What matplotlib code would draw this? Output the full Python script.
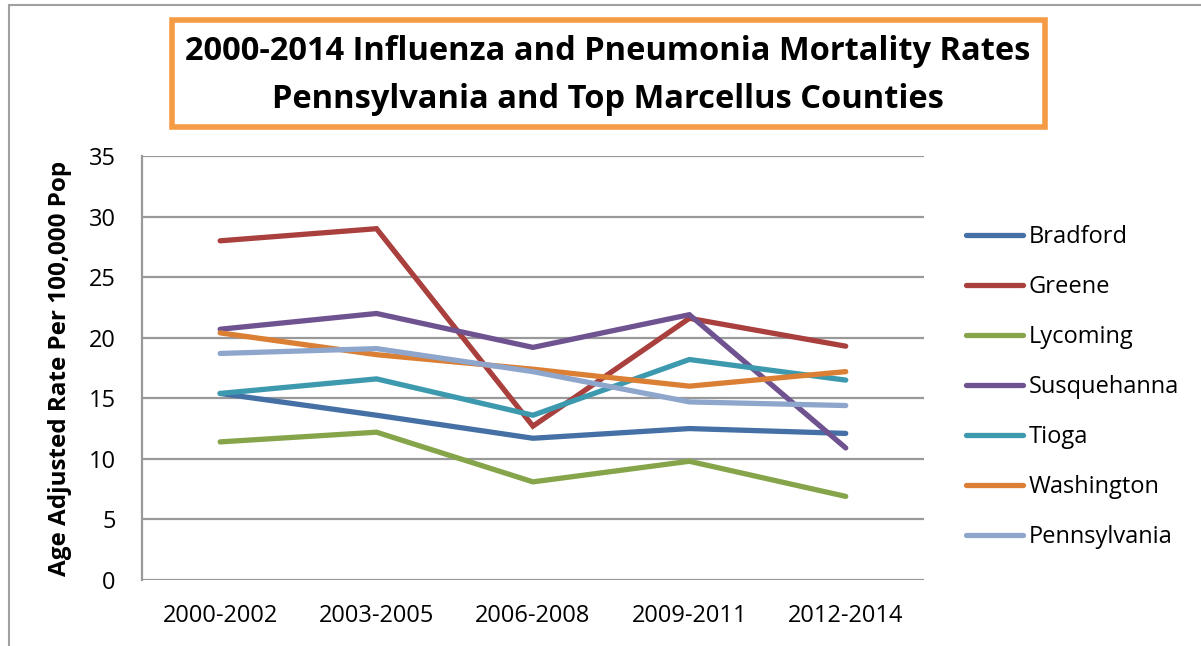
import matplotlib
matplotlib.use("Agg")
import matplotlib.pyplot as plt
from matplotlib.patches import Rectangle
from matplotlib import font_manager

periods = ["2000-2002", "2003-2005", "2006-2008", "2009-2011", "2012-2014"]

bradford = [15.4, 13.6, 11.7, 12.5, 12.1]
greene = [28.0, 29.0, 12.7, 21.6, 19.3]
lycoming = [11.4, 12.2, 8.1, 9.8, 6.9]
susquehanna = [20.7, 22.0, 19.2, 21.9, 10.9]
tioga = [15.4, 16.6, 13.6, 18.2, 16.5]
washington = [20.4, 18.6, 17.4, 16.0, 17.2]
pennsylvania = [18.7, 19.1, 17.2, 14.7, 14.4]

series = [
    ("Bradford", bradford, "#4470A6"),
    ("Greene", greene, "#A9403D"),
    ("Lycoming", lycoming, "#86A44A"),
    ("Susquehanna", susquehanna, "#6F5290"),
    ("Tioga", tioga, "#3D9AAE"),
    ("Washington", washington, "#DB7F35"),
    ("Pennsylvania", pennsylvania, "#8EA6CB"),
]

names = {f.name for f in font_manager.fontManager.ttflist}
narrow = "Liberation Sans Narrow" if "Liberation Sans Narrow" in names else "Open Sans"
plt.rcParams["font.family"] = [narrow, "DejaVu Sans"]

fig = plt.figure(figsize=(12.01, 6.46), dpi=100)
ax = fig.add_axes([0.1182, 0.1022, 0.6511, 0.6563])

x = list(range(len(periods)))
for name, vals, col in series:
    ax.plot(x, vals, color=col, lw=3.8, solid_capstyle="round",
            solid_joinstyle="miter", label=name)

ax.set_xlim(-0.5, 4.5)
ax.set_ylim(0, 35)
ax.set_yticks(range(0, 36, 5))
ax.set_xticks(x)
ax.set_xticklabels(periods)
ax.yaxis.grid(True, color="#999999", lw=1.6)
ax.set_axisbelow(True)
for s in ["top", "right", "bottom"]:
    ax.spines[s].set_visible(False)
ax.spines["left"].set_color("#999999")
ax.spines["left"].set_linewidth(1.6)
ax.tick_params(axis="y", length=0, labelsize=17, pad=19)
ax.tick_params(axis="x", length=0, labelsize=17, pad=17)
ax.set_ylabel("Age Adjusted Rate Per 100,000 Pop", fontsize=17.5, fontweight="bold", labelpad=12)

leg = ax.legend(loc="center left", bbox_to_anchor=(1.027, 0.455), frameon=False,
                fontsize=17, handlelength=2.4, handletextpad=0.25, labelspacing=1.1)

fig.patches.append(Rectangle((172 / 1201, 1 - 127 / 646), (1045 - 172) / 1201, (127 - 20) / 646,
                             transform=fig.transFigure, fill=False, ec="#F59A45", lw=4))
fig.patches.append(Rectangle((9 / 1201, -0.01), 1.0, 1 - 5 / 646 + 0.01,
                             transform=fig.transFigure, fill=False, ec="#A0A0A0", lw=1.5))
fig.text(608 / 1201, 1 - 75 / 646,
         "2000-2014 Influenza and Pneumonia Mortality Rates\nPennsylvania and Top Marcellus Counties",
         ha="center", va="center", fontsize=23.5, fontweight="bold", linespacing=1.6)

fig.savefig("out.png", dpi=100)
